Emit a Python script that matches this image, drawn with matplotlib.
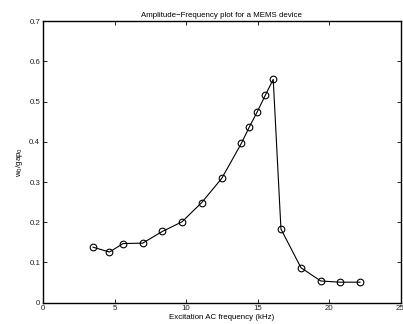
import matplotlib
matplotlib.use('Agg')
import matplotlib.pyplot as plt

# excitation frequency (kHz) and normalised amplitude w0/gap0
freq_khz = [3.5, 4.65, 5.6, 6.97, 8.34, 9.72, 11.1, 12.5, 13.87, 14.43,
            14.99, 15.55, 16.1, 16.64, 18.04, 19.42, 20.79, 22.17]
amplitude = [0.138, 0.126, 0.147, 0.148, 0.177, 0.201, 0.249, 0.309, 0.396, 0.437,
             0.475, 0.516, 0.555, 0.183, 0.087, 0.054, 0.051, 0.051]

xticks = [0, 5, 10, 15, 20, 25]
yticks = [0, 0.1, 0.2, 0.3, 0.4, 0.5, 0.6, 0.7]

plt.rcParams['font.family'] = ['Liberation Sans', 'DejaVu Sans']

fig = plt.figure(figsize=(4.03, 3.24), dpi=100)
ax = fig.add_axes([0.1067, 0.0657, 0.8871, 0.8693])

ax.plot(freq_khz, amplitude, color='black', linewidth=0.8,
        marker='o', markersize=4.8, markerfacecolor='none',
        markeredgecolor='black', markeredgewidth=0.8)

ax.set_xlim(0, 25)
ax.set_ylim(0, 0.7)
ax.set_xticks(xticks)
ax.set_yticks(yticks)
ax.set_xticklabels([str(t) for t in xticks])
ax.set_yticklabels(['0'] + ['%.1f' % t for t in yticks[1:]])

ax.tick_params(direction='in', top=True, right=True, length=3, width=0.6,
               labelsize=5.7, pad=2, labelcolor='#222222')
for s in ax.spines.values():
    s.set_linewidth(1.0)

ax.set_title('Amplitude\u2212Frequency plot for a MEMS device', fontsize=5.7, pad=3)
ax.set_xlabel('Excitation AC frequency (kHz)', fontsize=5.7, labelpad=1)
ax.set_ylabel('w$_0$/gap$_0$', fontsize=5.7, labelpad=3)

fig.savefig('out.png', dpi=100)
